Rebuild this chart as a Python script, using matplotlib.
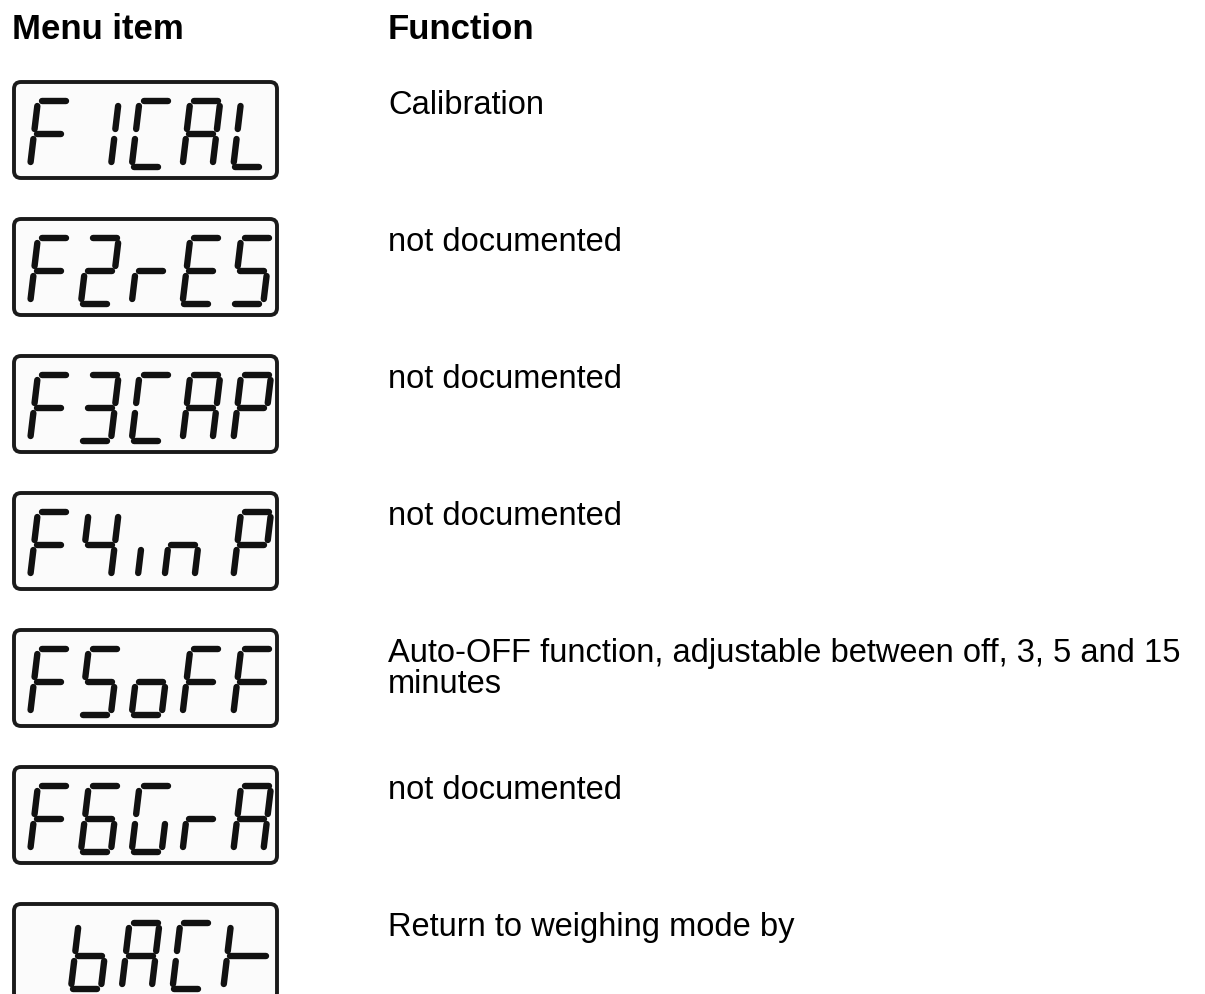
import matplotlib.pyplot as plt
from matplotlib.patches import FancyBboxPatch

plt.rcParams['font.family'] = ['Liberation Sans', 'DejaVu Sans']

# table content
displays = ["F1CAL", "F2rES", "F3CAP", "F4inP", "F5oFF", "F6GrA", " bACk"]
functions = [
    "Calibration",
    "not documented",
    "not documented",
    "not documented",
    "Auto-OFF function, adjustable between off, 3, 5 and 15\nminutes",
    "not documented",
    "Return to weighing mode by",
]
headers = ["Menu item", "Function"]

# which of the seven segments (a..g) are lit for each glyph
glyph_segments = {
    "F": "afeg", "1": "bc", "2": "abged", "3": "abgcd", "4": "fgbc",
    "5": "afgcd", "6": "afgedc", "C": "afed", "A": "abcefg", "L": "fed",
    "r": "eg", "E": "afged", "S": "afgcd", "P": "abfge", "i": "e",
    "n": "ecg", "o": "cdeg", "G": "afedc", "b": "fegcd", "k": "feg",
    " ": "",
}

W, H = 30, 66       # digit cell size in pixels
SLANT = 0.12
seg_geom = {
    "a": ((4, H), (W - 2, H)),
    "g": ((3, H / 2), (W - 3, H / 2)),
    "d": ((2, 0), (W - 4, 0)),
    "f": ((0, H / 2 + 5), (0, H - 5)),
    "e": ((0, 5), (0, H / 2 - 5)),
    "b": ((W, H / 2 + 5), (W, H - 5)),
    "c": ((W, 5), (W, H / 2 - 5)),
}

fig = plt.figure(figsize=(12.05, 9.94), dpi=100)
ax = fig.add_axes([0, 0, 1, 1])
ax.set_xlim(0, 1205)
ax.set_ylim(994, 0)
ax.axis("off")

ax.text(12, 39, headers[0], fontsize=25, fontweight="bold", va="baseline", ha="left")
ax.text(388, 39, headers[1], fontsize=25, fontweight="bold", va="baseline", ha="left")

row_top = 82
row_step = 137
box_h = 96
for i, (disp, func) in enumerate(zip(displays, functions)):
    top = row_top + i * row_step
    box = FancyBboxPatch((14, top), 263, box_h,
                         boxstyle="round,pad=0,rounding_size=7",
                         fc="#fbfbfb", ec="#1a1a1a", lw=2.8, zorder=2)
    ax.add_patch(box)
    base = top + 85
    for k, ch in enumerate(disp):
        x0 = 30 + k * 50.8
        if disp == " bACk":
            x0 -= 10
        for s in glyph_segments.get(ch, ""):
            (u0, v0), (u1, v1) = seg_geom[s]
            if ch == "i":
                u0 += 6; u1 += 6
            if ch == "n":
                u0 -= 18; u1 -= 18
            if ch == "k" and s == "g":
                u1 += 12
            xs = [x0 + u0 + v0 * SLANT, x0 + u1 + v1 * SLANT]
            ys = [base - v0, base - v1]
            ax.plot(xs, ys, color="#111111", lw=4.6,
                    solid_capstyle="round", zorder=3)

    for j, line in enumerate(func.split("\n")):
        ax.text(388, top + 32 + j * 31, line, fontsize=23.5,
                va="baseline", ha="left")

fig.savefig("out.png", dpi=100)
